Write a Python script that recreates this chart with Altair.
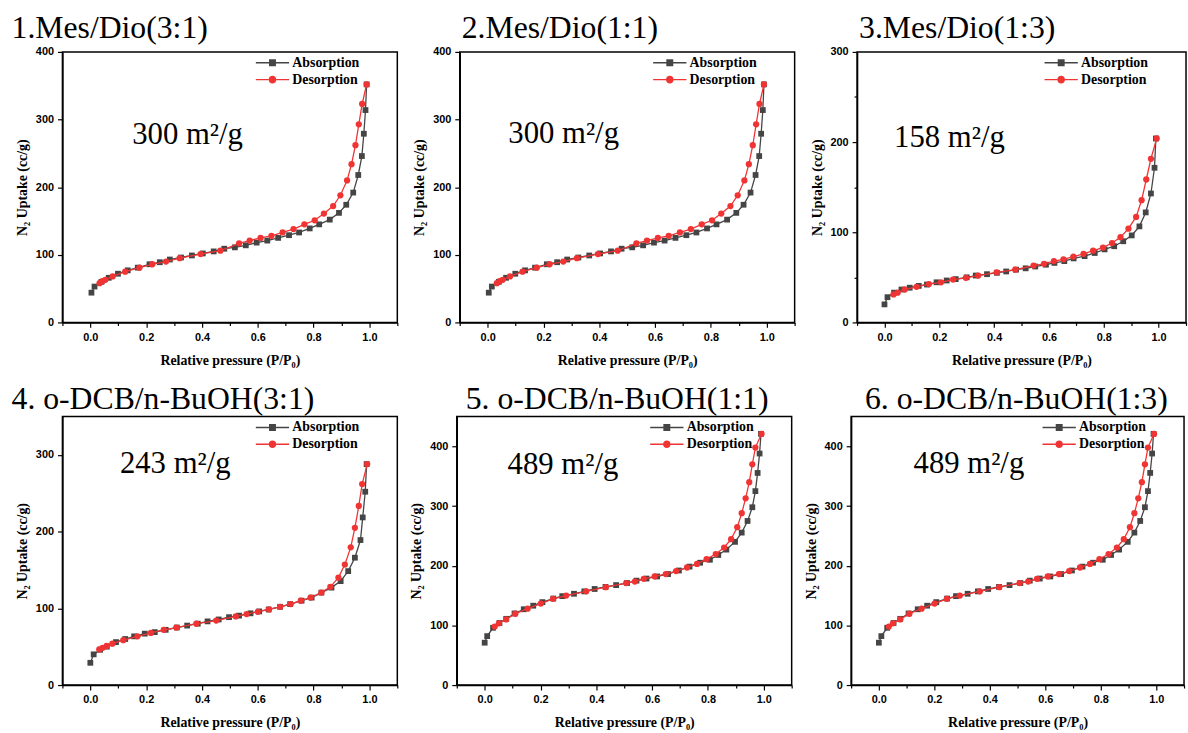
import altair as alt
import pandas as pd

# ---------------- data ----------------
SERIES = ["Absorption", "Desorption"]
TITLES = ["1.Mes/Dio(3:1)", "2.Mes/Dio(1:1)", "3.Mes/Dio(1:3)",
          "4. o-DCB/n-BuOH(3:1)", "5. o-DCB/n-BuOH(1:1)", "6. o-DCB/n-BuOH(1:3)"]
AREAS = ["300 m²/g", "300 m²/g", "158 m²/g", "243 m²/g", "489 m²/g", "489 m²/g"]
Y_MAX = [400, 400, 300, 350, 450, 450]
X_MAJOR = [0.0, 0.2, 0.4, 0.6, 0.8, 1.0]
X_MINOR = [-0.1, 0.1, 0.3, 0.5, 0.7, 0.9, 1.1]

# Mes/Dio (3:1) and (1:1)
MD_ABS_X = [0.004, 0.015, 0.04, 0.066, 0.099, 0.134, 0.17, 0.212, 0.249, 0.285, 0.325, 0.364,
            0.403, 0.442, 0.48, 0.518, 0.557, 0.596, 0.634, 0.673, 0.712, 0.748, 0.786, 0.82,
            0.858, 0.891, 0.917, 0.942, 0.96, 0.973, 0.98, 0.986, 0.99]
MD_ABS_Y = [44, 53, 60, 66, 72, 77, 81, 86, 89, 93, 96, 99,
            102, 105, 109, 111, 114, 118, 121, 125, 129, 133, 139, 145,
            152, 162, 174, 192, 218, 246, 279, 314, 352]
MD_DES_X = [0.033, 0.043, 0.054, 0.08, 0.125, 0.176, 0.222, 0.271, 0.32, 0.395, 0.466, 0.533,
            0.571, 0.61, 0.649, 0.689, 0.728, 0.767, 0.804, 0.837, 0.87, 0.896, 0.92, 0.936,
            0.95, 0.962, 0.974, 0.99]
MD_DES_Y = [58, 61, 63, 68, 75, 81, 86, 90, 95, 101, 106, 117,
            121, 125, 128, 133, 138, 145, 151, 161, 172, 188, 210, 234,
            262, 293, 323, 352]

# Mes/Dio (1:3)
M3_ABS_X = [0.0, 0.011, 0.035, 0.062, 0.092, 0.125, 0.155, 0.19, 0.227, 0.26, 0.3, 0.333,
            0.374, 0.41, 0.444, 0.48, 0.515, 0.55, 0.589, 0.62, 0.656, 0.69, 0.73, 0.767,
            0.803, 0.838, 0.871, 0.902, 0.93, 0.953, 0.972, 0.985, 0.99]
M3_ABS_Y = [20, 28, 33, 36.5, 38.5, 40.5, 42, 44.5, 46.5, 48, 50, 52,
            53.5, 55, 56.5, 58.5, 60, 62, 64, 66, 68, 71, 73.5, 77,
            81, 84.5, 90, 96.5, 106.5, 122, 143, 171.5, 204]
M3_DES_X = [0.033, 0.048, 0.074, 0.117, 0.162, 0.206, 0.25, 0.297, 0.342, 0.409, 0.477, 0.544,
            0.582, 0.618, 0.653, 0.689, 0.726, 0.761, 0.797, 0.83, 0.861, 0.89, 0.918, 0.938,
            0.955, 0.972, 0.993]
M3_DES_Y = [31, 33, 36.5, 39.5, 42.5, 44.5, 47.5, 49.5, 52, 55.5, 58.5, 63,
            65, 68, 70, 73, 76, 79.5, 83, 88, 94.5, 104, 117, 135.5,
            158.5, 181.5, 204]

# o-DCB/n-BuOH (3:1)
DB_ABS_X = [0.0, 0.012, 0.035, 0.059, 0.092, 0.125, 0.157, 0.195, 0.231, 0.27, 0.31, 0.347,
            0.385, 0.42, 0.46, 0.497, 0.533, 0.574, 0.605, 0.639, 0.68, 0.716, 0.757, 0.793,
            0.828, 0.864, 0.897, 0.924, 0.948, 0.968, 0.976, 0.985, 0.99]
DB_ABS_Y = [29, 40, 46, 50, 56, 60, 63.5, 67, 69, 72, 75, 77.5,
            80, 83, 85.5, 88.5, 90.5, 93.5, 96, 98.5, 102, 105.5, 110, 114,
            120.5, 127, 135.5, 148.5, 166, 189, 218.5, 252, 288]
DB_DES_X = [0.032, 0.044, 0.059, 0.079, 0.118, 0.169, 0.217, 0.263, 0.308, 0.38, 0.451, 0.521,
            0.56, 0.6, 0.64, 0.68, 0.718, 0.754, 0.789, 0.828, 0.86, 0.889, 0.912, 0.933,
            0.948, 0.962, 0.974, 0.992]
DB_DES_Y = [46.5, 48.5, 51, 54, 58.5, 63.5, 68, 72, 75, 80, 84, 89.5,
            92.5, 95.5, 98.5, 102, 105.5, 110, 114, 120.5, 128, 140, 157, 179.5,
            205, 233.5, 262, 288]

# o-DCB/n-BuOH (1:1) and (1:3)
DC_ABS_X = [0.0, 0.009, 0.03, 0.053, 0.077, 0.107, 0.14, 0.174, 0.207, 0.246, 0.278, 0.32,
            0.357, 0.394, 0.433, 0.471, 0.51, 0.544, 0.58, 0.618, 0.657, 0.696, 0.734, 0.772,
            0.807, 0.837, 0.866, 0.897, 0.921, 0.942, 0.959, 0.97, 0.978, 0.985, 0.99]
DC_ABS_Y = [71, 82, 96, 104, 111, 120, 127, 133, 139, 145, 149, 153,
            157, 161, 164.5, 167.5, 171, 175, 178.5, 182, 186, 192, 198.5, 205,
            210, 218, 227, 240, 255.5, 275, 298, 325, 355.5, 388, 421]
DC_DES_X = [0.036, 0.051, 0.077, 0.11, 0.154, 0.201, 0.245, 0.292, 0.364, 0.434, 0.507, 0.538,
            0.57, 0.609, 0.649, 0.686, 0.725, 0.761, 0.795, 0.828, 0.858, 0.883, 0.905, 0.921,
            0.935, 0.948, 0.959, 0.97, 0.992]
DC_DES_Y = [98, 103.5, 110, 119.5, 128, 136.5, 144.5, 150, 157, 164, 171, 173.5,
            178, 182, 186, 191, 197, 203, 211, 219.5, 230.5, 244.5, 264.5, 288,
            313, 340, 370, 398, 421]

PANEL_DATA = [
    (MD_ABS_X, MD_ABS_Y, MD_DES_X, MD_DES_Y),
    (MD_ABS_X, MD_ABS_Y, MD_DES_X, MD_DES_Y),
    (M3_ABS_X, M3_ABS_Y, M3_DES_X, M3_DES_Y),
    (DB_ABS_X, DB_ABS_Y, DB_DES_X, DB_DES_Y),
    (DC_ABS_X, DC_ABS_Y, DC_DES_X, DC_DES_Y),
    (DC_ABS_X, DC_ABS_Y, DC_DES_X, DC_DES_Y),
]

# ---------------- style ----------------
GRAY = "#454545"
RED = "#f03434"
SERIF = "Liberation Serif, Times New Roman, DejaVu Serif, serif"
SANS = "Liberation Sans, Arial, sans-serif"
SQ_PATH = "M-2.4,-0.1H-0.5V0.1H-2.4Z M-0.5,-0.5H0.5V0.5H-0.5Z M0.5,-0.1H2.4V0.1H0.5Z"
CI_PATH = ("M-2.4,-0.1H-0.55V0.1H-2.4Z M-0.55,0A0.55,0.55 0 1,1 0.55,0"
           "A0.55,0.55 0 1,1 -0.55,0Z M0.55,-0.1H2.4V0.1H0.55Z")

# layout per panel: width, height, title frame, title dx, annotation x, annotation y
LAYOUT = [
    (338, 273, "bounds", -4, 0.15, 264),
    (338, 273, "group", 2, 0.074, 266),
    (332, 273, "group", 2, 0.035, 195),
    (338, 271, "bounds", -4, 0.106, 276),
    (338, 271, "group", 9, 0.082, 354),
    (336, 271, "group", 14, 0.125, 356),
]


def axis_style(**kw):
    base = dict(
        labelFont=SANS, labelFontWeight="bold", labelFontSize=11, labelColor="black",
        titleFont=SERIF, titleFontWeight="bold", titleFontSize=14, titleColor="black",
        grid=False, domainColor="black", domainWidth=1.5, tickColor="black", tickWidth=1.2,
        labelFlush=False, labelOverlap=False, labelPadding=4,
    )
    base.update(kw)
    return alt.Axis(**base)


def panel(i):
    ax, ay, dx_, dy_ = PANEL_DATA[i]
    w, h, frame, tdx, ann_x, ann_y = LAYOUT[i]
    ymax = Y_MAX[i]
    df = pd.concat([
        pd.DataFrame({"p": ax, "v": ay, "s": SERIES[0]}),
        pd.DataFrame({"p": dx_, "v": dy_, "s": SERIES[1]}),
    ], ignore_index=True)

    xs = alt.Scale(domain=[-0.1, 1.1], nice=False, zero=False)
    ys = alt.Scale(domain=[0, ymax], nice=False)

    x = alt.X("p:Q", title="Relative pressure (P/P₀)", scale=xs,
              axis=axis_style(values=X_MAJOR, format=".1f", tickSize=5, titlePadding=11, orient="bottom"))
    y = alt.Y("v:Q", title="N₂ Uptake (cc/g)", scale=ys,
              axis=axis_style(values=list(range(0, ymax + 1, 50)),
                              labelExpr="datum.value % 100 == 0 ? datum.label : ''",
                              tickSize={"condition": {"test": "datum.value % 100 != 0", "value": 3}, "value": 5},
                              titlePadding=6))

    base = alt.Chart(df).encode(x=x, y=y)
    a_line = base.transform_filter(alt.datum.s == SERIES[0]).mark_line(color=GRAY, strokeWidth=1.3)
    a_pts = base.transform_filter(alt.datum.s == SERIES[0]).mark_point(
        shape="square", filled=True, size=34, color=GRAY, opacity=1)
    d_line = base.transform_filter(alt.datum.s == SERIES[1]).mark_line(color=RED, strokeWidth=1.3)
    d_pts = base.transform_filter(alt.datum.s == SERIES[1]).mark_point(
        shape="circle", filled=True, size=40, color=RED, opacity=1)

    leg = alt.Legend(title=None, orient="none", legendX=w - 133, legendY=4,
                     labelFont=SERIF, labelFontWeight="bold", labelFontSize=14, labelColor="black",
                     symbolSize=196, labelOffset=13, rowPadding=3, padding=0,
                     symbolStrokeWidth=0, symbolOpacity=1)
    legend_layer = base.transform_filter("false").mark_point(filled=True, opacity=1).encode(
        shape=alt.Shape("s:N", scale=alt.Scale(domain=SERIES, range=[SQ_PATH, CI_PATH]), legend=leg),
        color=alt.Color("s:N", scale=alt.Scale(domain=SERIES, range=[GRAY, RED]), legend=leg),
    )

    ann = alt.Chart(pd.DataFrame({"t": [AREAS[i]]})).mark_text(
        font=SERIF, fontSize=31, align="left", baseline="alphabetic", color="black"
    ).encode(x=alt.datum(ann_x), y=alt.datum(ann_y), text="t:N")

    main = alt.layer(a_line, a_pts, d_line, d_pts, legend_layer, ann)

    # shorter minor ticks on the x axis (second, label-less bottom axis on the same scale)
    minor = alt.Chart(df).mark_point(opacity=0).encode(
        x=alt.X("p:Q", title=None, scale=xs,
                axis=axis_style(values=X_MINOR, labels=False, domain=False, tickSize=3, orient="bottom")),
    )

    return alt.layer(main, minor).resolve_axis(x="independent").properties(
        width=w, height=h,
        title=alt.TitleParams(TITLES[i], anchor="start", frame=frame, dx=tdx, font=SERIF,
                              fontSize=32, fontWeight="normal", color="black", offset=1),
    )


def row(panels, spacing):
    return alt.hconcat(*panels, spacing=spacing).resolve_scale(
        x="independent", y="independent", color="independent", shape="independent"
    ).resolve_legend(color="independent", shape="independent")


row1 = row([panel(0), panel(1), panel(2)], 12)
row2 = row([panel(3), panel(4), panel(5)], 9)

chart = alt.vconcat(row1, row2, spacing=14).resolve_scale(
    x="independent", y="independent", color="independent", shape="independent"
).resolve_legend(color="independent", shape="independent").properties(
    padding={"left": 10, "top": 8, "right": 0, "bottom": 0},
    background="white",
).configure_view(stroke="black", strokeWidth=1.5)

chart.save("out.html", embed_options={"renderer": "svg", "actions": False})
